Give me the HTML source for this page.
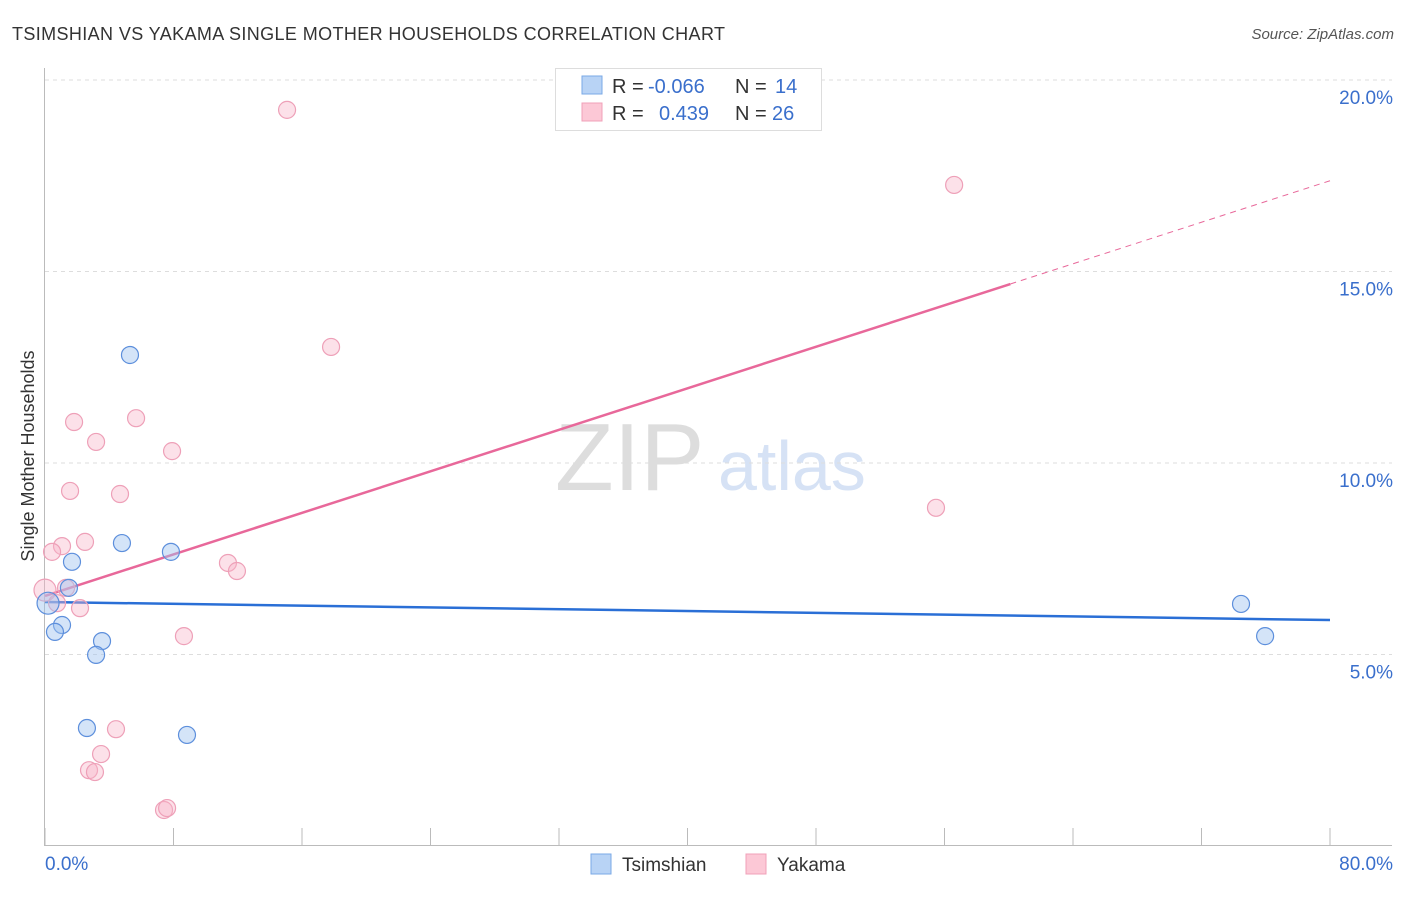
<!DOCTYPE html>
<html><head><meta charset="utf-8"><style>
body{margin:0;background:#fff;font-family:"Liberation Sans",sans-serif;}
svg text{font-family:"Liberation Sans",sans-serif;}
</style></head><body>
<svg id="chart" width="1406" height="892" xmlns="http://www.w3.org/2000/svg">
<text x="12" y="40" font-size="18" fill="#333" textLength="713">TSIMSHIAN VS YAKAMA SINGLE MOTHER HOUSEHOLDS CORRELATION CHART</text>
<text x="1394" y="39" font-size="15" fill="#555" font-style="italic" text-anchor="end">Source: ZipAtlas.com</text>
<text x="555" y="490" font-size="96" fill="#ddd" font-family="Liberation Serif">ZIP</text>
<text x="718" y="490" font-size="70" fill="#d6e2f5">atlas</text>
<g id="grid"></g>
<line x1="44.5" y1="68" x2="44.5" y2="845" stroke="#bbb"/>
<line x1="44" y1="845.5" x2="1392" y2="845.5" stroke="#bbb"/>
<text transform="translate(34,456) rotate(-90)" font-size="18" fill="#333" text-anchor="middle">Single Mother Households</text>
<g id="trend"></g>
<g id="points"></g>
<g>
<rect x="555.5" y="68.5" width="266" height="62" fill="#fff" stroke="#ddd"/>
<rect x="582" y="76" width="20" height="18" fill="#b8d3f5" stroke="#7aa8e6"/>
<rect x="582" y="103" width="20" height="18" fill="#fcc8d6" stroke="#f0a0b8"/>
<text x="612" y="93" font-size="20" fill="#333">R =</text>
<text x="648" y="93" font-size="20" fill="#3a6fcc">-0.066</text>
<text x="735" y="93" font-size="20" fill="#333">N =</text>
<text x="775" y="93" font-size="20" fill="#3a6fcc">14</text>
<text x="612" y="120" font-size="20" fill="#333">R =</text>
<text x="659" y="120" font-size="20" fill="#3a6fcc">0.439</text>
<text x="735" y="120" font-size="20" fill="#333">N =</text>
<text x="772" y="120" font-size="20" fill="#3a6fcc">26</text>
</g>
<g>
<rect x="591" y="854" width="20" height="20" fill="#b8d3f5" stroke="#7aa8e6"/>
<text x="622" y="871" font-size="19" fill="#333">Tsimshian</text>
<rect x="746" y="854" width="20" height="20" fill="#fcc8d6" stroke="#f0a0b8"/>
<text x="777" y="871" font-size="19" fill="#333">Yakama</text>
</g>
<text x="45" y="870" font-size="19" fill="#3a6fcc">0.0%</text>
<text x="1393" y="870" font-size="19" fill="#3a6fcc" text-anchor="end">80.0%</text>
</svg>
<script>
const yTicks=[5,10,15,20];
const xTicks=[0,8,16,24,32,40,48,56,64,72,80];
const tsX=[5.29,4.79,7.84,1.68,1.49,0.19,1.06,0.62,3.55,3.18,2.61,8.84,74.46,75.96];
const tsY=[12.82,7.91,7.68,7.42,6.74,6.34,5.77,5.59,5.35,4.99,3.08,2.90,6.32,5.48];
const yaX=[15.07,56.6,17.81,1.81,5.67,3.18,7.91,1.56,4.67,55.47,2.49,1.06,0.44,11.39,11.95,1.31,0,0.75,2.18,8.65,4.42,3.49,2.74,3.11,7.41,7.60];
const yaY=[19.22,17.26,13.03,11.07,11.17,10.55,10.31,9.27,9.19,8.83,7.94,7.83,7.68,7.39,7.18,6.74,6.68,6.34,6.21,5.48,3.05,2.40,1.98,1.93,0.94,0.99];
const tsTrend=[6.37,5.90];
const yaTrend=[6.53,17.37];
const NS='http://www.w3.org/2000/svg';
const X=v=>45+v*1285/80;
const Y=v=>846-v*38.3;
function mk(t,a,p){const e=document.createElementNS(NS,t);for(const k in a)e.setAttribute(k,a[k]);p.appendChild(e);return e;}
const grid=document.getElementById('grid');
yTicks.forEach(t=>{
 const l=mk('line',{x1:45,x2:1392,y1:Y(t),y2:Y(t),stroke:'#ddd','stroke-dasharray':'4,4'},grid);
 
 
 const tx=mk('text',{x:1393,y:Y(t)+24,'font-size':19,fill:'#3a6fcc','text-anchor':'end'},grid);
 tx.textContent=t.toFixed(1)+'%';
 
 
});
xTicks.forEach(t=>{
 const l=mk('line',{x1:X(t),x2:X(t),y1:828,y2:845,stroke:'#bbb'},grid);
 
 
});
const pts=document.getElementById('points');
yaX.forEach((x,i)=>{
 const c=mk('circle',{cx:X(x),cy:Y(yaY[i]),r:(x===0?11:8.5),fill:'rgba(248,180,200,0.4)',stroke:'#eea0b8','stroke-width':1.2},pts);
 
 
});
tsX.forEach((x,i)=>{
 const c=mk('circle',{cx:X(x),cy:Y(tsY[i]),r:(x<0.3?11:8.5),fill:'rgba(160,196,240,0.45)',stroke:'#5d8fdc','stroke-width':1.2},pts);
 
 
});
const tr=document.getElementById('trend');
const b=mk('line',{x1:X(0),y1:Y(tsTrend[0]),x2:X(80),y2:Y(tsTrend[1]),stroke:'#2a6fd6','stroke-width':2.5},tr);


const xs=60.1, ym=yaTrend[0]+(yaTrend[1]-yaTrend[0])*xs/80;
const p1=mk('line',{x1:X(0),y1:Y(yaTrend[0]),x2:X(xs),y2:Y(ym),stroke:'#e8689a','stroke-width':2.5},tr);


const p2=mk('line',{x1:X(xs),y1:Y(ym),x2:X(80),y2:Y(yaTrend[1]),stroke:'#e8689a','stroke-width':1,'stroke-dasharray':'6,5'},tr);


</script>
</body></html>
